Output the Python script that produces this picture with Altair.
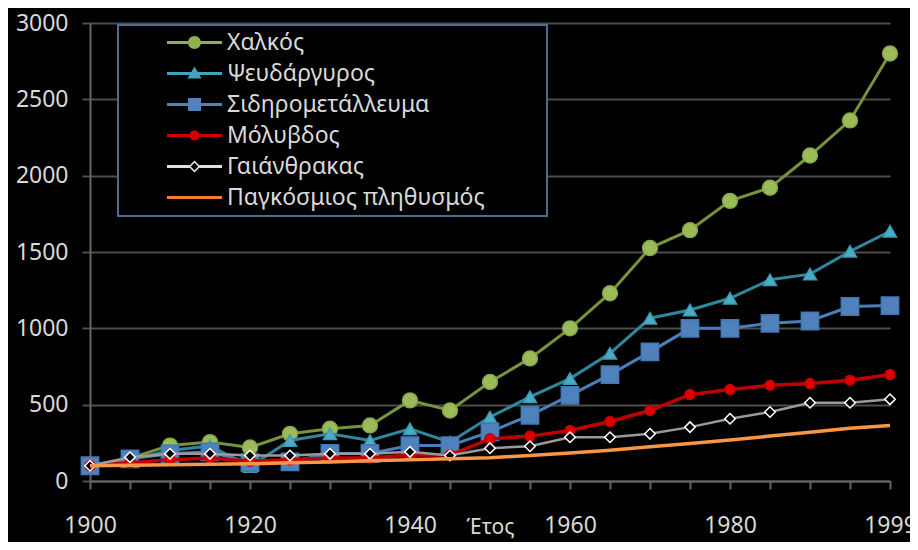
import altair as alt
import pandas as pd

years = ['1900', '1905', '1910', '1915', '1920', '1925', '1930', '1935', '1940', '1945',
         '1950', '1955', '1960', '1965', '1970', '1975', '1980', '1985', '1990', '1995', '1999']

copper = [100, 150, 232, 255, 220, 309, 342, 364, 528, 462, 649, 803, 1000, 1230, 1526, 1643, 1835, 1921, 2132, 2362, 2800]
zinc = [100, 140, 200, 230, 95, 265, 309, 265, 342, 254, 419, 551, 671, 836, 1066, 1120, 1197, 1318, 1355, 1504, 1636]
iron = [100, 145, 178, 191, 120, 125, 180, 180, 232, 232, 322, 430, 561, 697, 846, 1000, 1000, 1033, 1048, 1143, 1149]
lead = [100, 120, 140, 150, 130, 140, 150, 150, 170, 170, 276, 294, 331, 390, 462, 566, 599, 627, 638, 660, 697]
coal = [100, 156, 178, 178, 167, 167, 178, 178, 191, 167, 215, 228, 287, 287, 309, 353, 408, 452, 513, 513, 535]
population = [100, 103, 106, 109, 113, 119, 125, 132, 139, 145, 153, 167, 183, 202, 224, 246, 269, 294, 320, 345, 364]

series_names = ['Χαλκός', 'Ψευδάργυρος', 'Σιδηρομετάλλευμα', 'Μόλυβδος', 'Γαιάνθρακας', 'Παγκόσμιος πληθυσμός']
series_values = [copper, zinc, iron, lead, coal, population]

line_colors = ['#77933c', '#31859c', '#4a7ebb', '#c00000', '#9a9a9a', '#f79646']
marker_fill = ['#9bbb59', '#4bacc6', '#4f81bd', '#e00000', '#000000', None]
marker_stroke = ['#8aa84c', '#3f9ab3', '#4577b0', '#c00000', '#ffffff', None]
marker_shape = ['circle', 'triangle-up', 'square', 'circle', 'diamond', None]
marker_size = [220, 170, 300, 100, 110, 0]
line_width = [3, 3, 3, 3.5, 2.5, 3.5]
legend_colors = ['#8fb050', '#43a3bd', '#4f81bd', '#d00000', '#e0e0e0', '#f08030']

x_labels = ['1900', '1920', '1940', '1960', '1980', '1999']
y_ticks = [0, 500, 1000, 1500, 2000, 2500, 3000]

# legend symbols: line with marker (custom paths in unit coordinates)
seg = "M-5.5,-0.3 H5.5 V0.3 H-5.5 Z"
legend_paths = [
    seg + " M-1.3,0 A1.3,1.3 0 1,1 1.3,0 A1.3,1.3 0 1,1 -1.3,0 Z",
    seg + " M0,-1.4 L1.4,1.0 L-1.4,1.0 Z",
    seg + " M-1.3,-1.3 H1.3 V1.3 H-1.3 Z",
    seg + " M-1.0,0 A1.0,1.0 0 1,1 1.0,0 A1.0,1.0 0 1,1 -1.0,0 Z",
    "M-5.5,-0.3 H-1.0 V0.3 H-5.5 Z M1.0,-0.3 H5.5 V0.3 H1.0 Z "
    "M0,-1.2 L1.2,0 L0,1.2 L-1.2,0 Z M0,-0.75 L-0.75,0 L0,0.75 L0.75,0 Z",
    seg,
]

rows = []
for name, vals in zip(series_names, series_values):
    for yr, v in zip(years, vals):
        rows.append({'year': yr, 'value': v, 'series': name})
df = pd.DataFrame(rows)

FONT = 'Noto Sans'
TXT = '#d9d9d9'
FS = 23

label_expr = "indexof(" + str(x_labels) + ", datum.value) >= 0 ? datum.value : ''"

x_enc = alt.X('year:O', sort=years, scale=alt.Scale(type='point', padding=0),
              axis=alt.Axis(title='Έτος', labelAngle=0, labelExpr=label_expr, labelOverlap=False,
                            labelFontSize=FS, labelColor=TXT, labelPadding=25, labelFont=FONT,
                            titleFontSize=21, titleColor=TXT, titleFont=FONT, titleFontWeight='normal',
                            titlePadding=-21,
                            domainColor='#666666', domainWidth=2, tickColor='#666666', tickWidth=2,
                            tickSize=8, grid=False))
y_enc = alt.Y('value:Q', scale=alt.Scale(domain=[0, 3000], nice=False),
              axis=alt.Axis(title=None, values=y_ticks, format='d', grid=True, gridColor='#4d4d4d',
                            gridWidth=2, labelFontSize=FS, labelColor=TXT, labelFont=FONT, labelPadding=14,
                            domainColor='#666666', domainWidth=2, tickColor='#4d4d4d', tickWidth=2,
                            tickSize=8))

layers = []
for i, name in enumerate(series_names):
    base = alt.Chart(df).transform_filter(alt.datum.series == name)
    layers.append(base.mark_line(color=line_colors[i], strokeWidth=line_width[i]).encode(x=x_enc, y=y_enc))
    if marker_shape[i] is not None:
        layers.append(base.mark_point(shape=marker_shape[i], size=marker_size[i], fill=marker_fill[i],
                                      stroke=marker_stroke[i], strokeWidth=1.5, filled=False,
                                      opacity=1, fillOpacity=1).encode(x=x_enc, y=y_enc))

legend_cfg = alt.Legend(title='x', titleOpacity=0, titleOrient='right', titlePadding=50,
                        titleFontSize=10, orient='none', legendX=28, legendY=2)
legend_layer = alt.Chart(df).transform_filter('false').mark_point(
    filled=True, size=100, opacity=1, strokeWidth=0
).encode(
    color=alt.Color('series:N', scale=alt.Scale(domain=series_names, range=legend_colors),
                    legend=legend_cfg),
    shape=alt.Shape('series:N', scale=alt.Scale(domain=series_names, range=legend_paths),
                    legend=legend_cfg),
)
layers.append(legend_layer)

chart = alt.layer(*layers).properties(
    width=800, height=458,
    background='#000000',
    padding={'left': 82, 'top': 15, 'right': 20, 'bottom': 61},
    autosize=alt.AutoSizeParams(type='none'),
).configure_view(stroke=None).configure_legend(
    labelFont=FONT, labelFontSize=FS, labelColor=TXT, symbolSize=100, symbolStrokeWidth=0,
    rowPadding=7, padding=6, symbolOffset=59, labelOffset=21,
    fillColor='#000000', strokeColor='#4f6c8f', strokeWidth=2, labelLimit=500,
)

chart.save('out.html', embed_options={'renderer': 'svg', 'actions': False})
